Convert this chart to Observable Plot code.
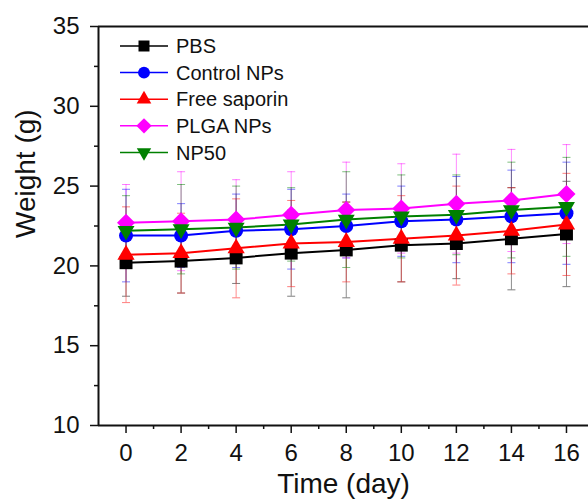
<!DOCTYPE html>
<html>
<head>
<meta charset="utf-8">
<script src="https://cdn.jsdelivr.net/npm/d3@7"></script>
<script src="https://cdn.jsdelivr.net/npm/@observablehq/plot@0.6"></script>
<style>
  html, body { margin: 0; padding: 0; background: #fff; }
  #chart { width: 588px; height: 499px; overflow: hidden; }
</style>
</head>
<body>
<div id="chart"></div>
<script>
// ---- data ----
const days = [0, 2, 4, 6, 8, 10, 12, 14, 16];
const minorDays = [1, 3, 5, 7, 9, 11, 13, 15];
const yTicks = [10, 15, 20, 25, 30, 35];
const yMinorTicks = [12.5, 17.5, 22.5, 27.5, 32.5];
const seriesNames = ["PBS", "Control NPs", "Free saporin", "PLGA NPs", "NP50"];
const seriesColors = ["#000000", "#0000ff", "#ff0000", "#ff00ff", "#008000"];

const pbs        = [20.2, 20.3, 20.5, 20.8, 21.0, 21.3, 21.4, 21.7, 22.0];
const pbsSD      = [2.1, 2.0, 1.6, 2.7, 3.0, 2.3, 2.2, 3.2, 3.3];
const controlNPs = [21.9, 21.9, 22.2, 22.3, 22.5, 22.8, 22.9, 23.1, 23.3];
const controlSD  = [2.9, 2.0, 2.3, 2.5, 2.0, 2.2, 2.7, 2.9, 3.2];
const freeSaporin= [20.7, 20.8, 21.1, 21.4, 21.5, 21.7, 21.9, 22.2, 22.6];
const freeSD     = [3.0, 2.5, 3.1, 2.7, 2.5, 2.7, 3.1, 2.7, 3.2];
const plgaNPs    = [22.7, 22.8, 22.9, 23.2, 23.5, 23.6, 23.9, 24.1, 24.5];
const plgaSD     = [2.4, 3.1, 2.5, 2.7, 3.0, 2.8, 3.1, 3.2, 3.1];
const np50       = [22.2, 22.3, 22.4, 22.6, 22.9, 23.1, 23.2, 23.5, 23.7];
const np50SD     = [2.2, 2.8, 2.6, 2.3, 3.0, 2.6, 2.5, 3.0, 3.1];

const seriesValues = [pbs, controlNPs, freeSaporin, plgaNPs, np50];
const seriesSD = [pbsSD, controlSD, freeSD, plgaSD, np50SD];

// ---- symbols ----
const triangleDown = {
  draw(ctx, size) {
    const y = -Math.sqrt(size / (Math.sqrt(3) * 3));
    ctx.moveTo(0, -y * 2);
    ctx.lineTo(-Math.sqrt(3) * y, y);
    ctx.lineTo(Math.sqrt(3) * y, y);
    ctx.closePath();
  }
};
const diamondSq = {
  draw(ctx, size) {
    const r = Math.sqrt(size / 2);
    ctx.moveTo(0, -r); ctx.lineTo(r, 0); ctx.lineTo(0, r); ctx.lineTo(-r, 0); ctx.closePath();
  }
};
const capLine = {
  draw(ctx, size) { ctx.moveTo(-4, 0); ctx.lineTo(4, 0); }
};
const seriesSymbols = [d3.symbolSquare, d3.symbolCircle, d3.symbolTriangle, diamondSq, triangleDown];
const seriesR = [7.3, 7.0, 6.4, 7.2, 6.3];

// ---- table ----
const table = [];
seriesNames.forEach((name, s) => {
  days.forEach((d, i) => {
    table.push({series: name, s, day: d, w: seriesValues[s][i], sd: seriesSD[s][i]});
  });
});

const font = "'Liberation Sans', Arial, sans-serif";
const xDomain = [-1, 16.8];
const yDomain = [10, 35];

const marks = [];
// error bars
seriesNames.forEach((name, s) => {
  const rows = table.filter(d => d.s === s);
  marks.push(Plot.ruleX(rows, {x: "day", y1: d => d.w - d.sd, y2: d => d.w + d.sd,
    stroke: seriesColors[s], strokeOpacity: 0.45, strokeWidth: 1}));
  marks.push(Plot.dot(rows, {x: "day", y: d => d.w - d.sd, symbol: capLine, r: 3,
    stroke: seriesColors[s], strokeOpacity: 0.5, strokeWidth: 1, fill: "none"}));
  marks.push(Plot.dot(rows, {x: "day", y: d => d.w + d.sd, symbol: capLine, r: 3,
    stroke: seriesColors[s], strokeOpacity: 0.5, strokeWidth: 1, fill: "none"}));
});
// lines and markers
seriesNames.forEach((name, s) => {
  const rows = table.filter(d => d.s === s);
  marks.push(Plot.line(rows, {x: "day", y: "w", stroke: seriesColors[s], strokeWidth: 2}));
});
seriesNames.forEach((name, s) => {
  const rows = table.filter(d => d.s === s);
  marks.push(Plot.dot(rows, {x: "day", y: "w", symbol: seriesSymbols[s], r: seriesR[s],
    fill: seriesColors[s], stroke: "none"}));
});
// frame lines
marks.push(Plot.ruleX([xDomain[0]], {stroke: "#111", strokeWidth: 2}));
marks.push(Plot.ruleY([yDomain[0]], {stroke: "#111", strokeWidth: 2}));
marks.push(Plot.ruleY([yDomain[1]], {stroke: "#111", strokeWidth: 2}));
// axes
marks.push(Plot.axisX({ticks: days, tickSize: 8, tickPadding: 10, strokeWidth: 1.5, stroke: "#111",
  fontSize: 24, fill: "#111", label: null}));
marks.push(Plot.axisX({ticks: minorDays, tickSize: 4, tickFormat: () => "", strokeWidth: 1.5, stroke: "#111", label: null}));
marks.push(Plot.axisY({ticks: yTicks, tickSize: 8, tickPadding: 11, strokeWidth: 1.5, stroke: "#111",
  fontSize: 24, fill: "#111", label: null}));
marks.push(Plot.axisY({ticks: yMinorTicks, tickSize: 4, tickFormat: () => "", strokeWidth: 1.5, stroke: "#111", label: null}));
// axis titles
marks.push(Plot.text(["Time (day)"], {frameAnchor: "bottom", dy: 48, fontSize: 28, fill: "#111", lineAnchor: "top"}));
marks.push(Plot.text(["Weight (g)"], {frameAnchor: "left", dx: -72, dy: 12, rotate: -90, fontSize: 28, fill: "#111"}));

const chart = Plot.plot({
  width: 588,
  height: 499,
  marginLeft: 98,
  marginRight: 0,
  marginTop: 26,
  marginBottom: 74,
  x: {domain: xDomain, axis: null},
  y: {domain: yDomain, axis: null},
  style: {fontFamily: font, background: "#fff", overflow: "visible"},
  marks
});

// ---- legend ----
const svg = d3.select(chart);
const lg = svg.append("g").attr("font-family", font).attr("text-anchor", "start");
seriesNames.forEach((name, s) => {
  const cy = 46 + s * 26.6;
  const row = lg.append("g").attr("transform", `translate(0,${cy})`);
  row.append("line").attr("x1", 120).attr("x2", 168).attr("y1", 0).attr("y2", 0)
    .attr("stroke", seriesColors[s]).attr("stroke-width", 1.5);
  const sym = d3.symbol().type(seriesSymbols[s]).size(Math.PI * Math.pow(seriesR[s] * 0.85, 2));
  row.append("path").attr("d", sym()).attr("transform", "translate(144,0)").attr("fill", seriesColors[s]);
  row.append("text").attr("x", 176).attr("y", 0).attr("dy", "0.36em")
    .attr("font-size", 20).attr("fill", "#111").attr("text-anchor", "start").text(name);
});

document.getElementById("chart").appendChild(chart);
</script>
</body>
</html>
